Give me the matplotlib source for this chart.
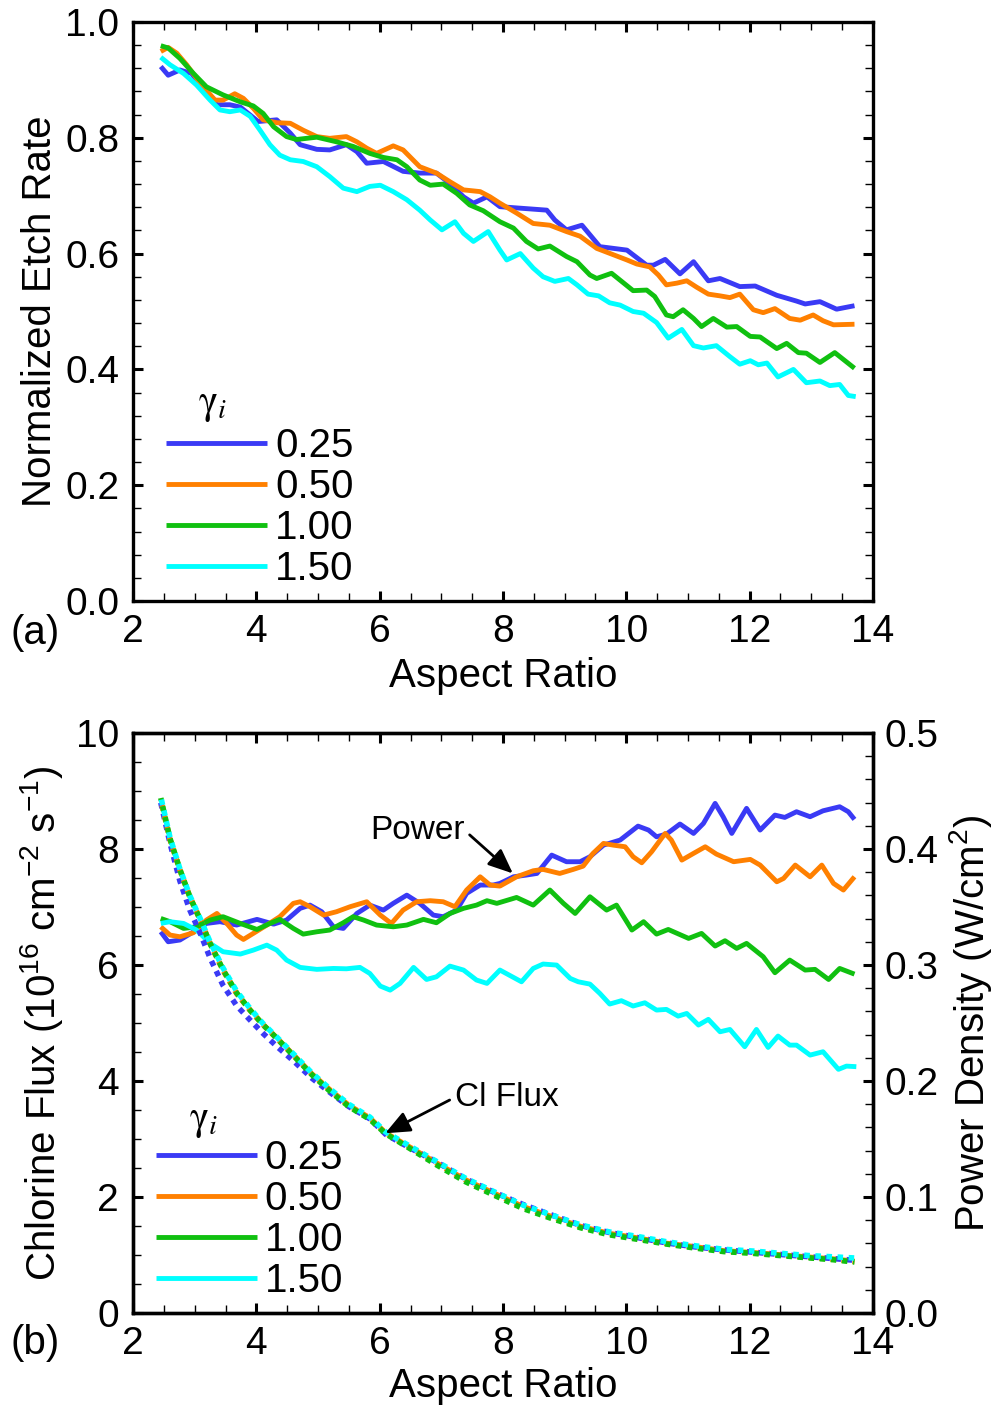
import matplotlib
matplotlib.use("Agg")
import matplotlib.pyplot as plt
from matplotlib.ticker import MultipleLocator, FormatStrFormatter

plt.rcParams['font.family'] = ['Liberation Sans', 'DejaVu Sans']
plt.rcParams['mathtext.fontset'] = 'custom'
plt.rcParams['mathtext.rm'] = 'Liberation Sans'
plt.rcParams['mathtext.it'] = 'Liberation Sans:italic'
plt.rcParams['mathtext.bf'] = 'Liberation Sans:bold'

# ---------------- data ----------------
gamma_labels = ['0.25', '0.50', '1.00', '1.50']
colors = ['#3a3af5', '#ff8000', '#10c010', '#00ffff']

# (a) normalized etch rate vs aspect ratio
ar_etch_025 = [2.45, 2.57, 2.76, 2.95, 3.11, 3.36, 3.57, 3.74, 4.03, 4.33, 4.55, 4.71, 4.98, 5.19, 5.46, 5.63,
               5.79, 6.06, 6.38, 6.65, 6.92, 7.14, 7.36, 7.52, 7.74, 7.95, 8.33, 8.71, 8.84, 9.03, 9.28, 9.57,
               9.79, 10.01, 10.33, 10.44, 10.63, 10.87, 11.09, 11.33, 11.52, 11.84, 12.09, 12.44, 12.76, 12.90,
               13.14, 13.41, 13.70]
etch_025 = [0.923, 0.908, 0.917, 0.911, 0.888, 0.857, 0.857, 0.853, 0.828, 0.831, 0.808, 0.788, 0.780, 0.779,
            0.788, 0.776, 0.756, 0.759, 0.742, 0.739, 0.739, 0.721, 0.698, 0.687, 0.698, 0.681, 0.678, 0.675,
            0.658, 0.641, 0.649, 0.612, 0.609, 0.606, 0.580, 0.580, 0.590, 0.565, 0.586, 0.553, 0.557, 0.543,
            0.544, 0.528, 0.518, 0.513, 0.517, 0.504, 0.510]

ar_etch_050 = [2.45, 2.57, 2.71, 2.87, 3.09, 3.33, 3.46, 3.65, 3.79, 3.95, 4.11, 4.33, 4.55, 4.76, 4.98, 5.19,
               5.46, 5.63, 5.79, 5.95, 6.22, 6.38, 6.65, 6.92, 7.14, 7.36, 7.63, 7.79, 7.95, 8.22, 8.49, 8.76,
               9.03, 9.25, 9.52, 9.79, 10.01, 10.17, 10.38, 10.52, 10.65, 10.82, 10.98, 11.14, 11.33, 11.52,
               11.68, 11.84, 12.06, 12.22, 12.41, 12.65, 12.82, 13.03, 13.19, 13.36, 13.70]
etch_050 = [0.949, 0.956, 0.946, 0.926, 0.894, 0.865, 0.865, 0.876, 0.868, 0.851, 0.831, 0.826, 0.825, 0.813,
            0.802, 0.799, 0.802, 0.793, 0.782, 0.773, 0.786, 0.779, 0.750, 0.739, 0.724, 0.710, 0.707, 0.698,
            0.687, 0.670, 0.652, 0.649, 0.638, 0.630, 0.609, 0.598, 0.589, 0.582, 0.577, 0.563, 0.546, 0.549,
            0.553, 0.542, 0.530, 0.527, 0.524, 0.530, 0.503, 0.498, 0.505, 0.488, 0.485, 0.494, 0.484, 0.477,
            0.478]

ar_etch_100 = [2.45, 2.57, 2.76, 2.98, 3.19, 3.46, 3.74, 3.95, 4.11, 4.28, 4.49, 4.65, 4.98, 5.30, 5.57, 5.84,
               6.06, 6.28, 6.44, 6.65, 6.82, 7.03, 7.25, 7.46, 7.68, 7.95, 8.17, 8.38, 8.57, 8.76, 9.03, 9.20,
               9.41, 9.52, 9.76, 9.90, 10.11, 10.33, 10.46, 10.65, 10.76, 10.92, 11.09, 11.22, 11.41, 11.63,
               11.79, 12.01, 12.17, 12.44, 12.60, 12.79, 12.92, 13.14, 13.38, 13.70]
etch_100 = [0.959, 0.955, 0.937, 0.911, 0.888, 0.874, 0.862, 0.855, 0.842, 0.819, 0.802, 0.797, 0.801, 0.793,
            0.785, 0.773, 0.766, 0.762, 0.750, 0.727, 0.718, 0.720, 0.704, 0.684, 0.674, 0.655, 0.644, 0.621,
            0.608, 0.613, 0.595, 0.586, 0.563, 0.557, 0.566, 0.554, 0.536, 0.537, 0.526, 0.494, 0.491, 0.503,
            0.488, 0.474, 0.488, 0.473, 0.474, 0.457, 0.456, 0.436, 0.445, 0.429, 0.428, 0.412, 0.429, 0.402]

ar_etch_150 = [2.45, 2.60, 2.82, 3.03, 3.25, 3.41, 3.57, 3.74, 3.90, 4.06, 4.22, 4.38, 4.55, 4.76, 4.98, 5.19,
               5.41, 5.63, 5.84, 6.01, 6.22, 6.44, 6.65, 6.82, 7.01, 7.22, 7.36, 7.52, 7.76, 7.95, 8.06, 8.28,
               8.49, 8.65, 8.84, 9.06, 9.20, 9.38, 9.55, 9.73, 9.90, 10.11, 10.28, 10.49, 10.68, 10.90, 11.09,
               11.25, 11.46, 11.68, 11.84, 12.01, 12.14, 12.28, 12.46, 12.71, 12.92, 13.14, 13.30, 13.46, 13.60,
               13.72]
etch_150 = [0.939, 0.926, 0.911, 0.891, 0.865, 0.848, 0.845, 0.848, 0.837, 0.813, 0.788, 0.770, 0.762, 0.759,
            0.750, 0.733, 0.713, 0.707, 0.716, 0.718, 0.707, 0.693, 0.675, 0.658, 0.641, 0.655, 0.635, 0.621,
            0.638, 0.606, 0.589, 0.600, 0.575, 0.560, 0.552, 0.557, 0.546, 0.530, 0.527, 0.515, 0.511, 0.500,
            0.497, 0.481, 0.454, 0.469, 0.441, 0.437, 0.441, 0.422, 0.409, 0.415, 0.408, 0.411, 0.387, 0.400,
            0.377, 0.380, 0.372, 0.374, 0.355, 0.353]

# (b) power density (W/cm^2) vs aspect ratio
ar_power_025 = [2.45, 2.57, 2.76, 2.98, 3.19, 3.41, 3.68, 4.01, 4.28, 4.49, 4.71, 4.87, 5.06, 5.25, 5.41, 5.63,
                5.84, 6.06, 6.22, 6.44, 6.65, 6.87, 7.03, 7.25, 7.41, 7.63, 7.84, 7.95, 8.17, 8.38, 8.55, 8.79,
                9.03, 9.25, 9.41, 9.63, 9.90, 10.19, 10.36, 10.49, 10.65, 10.87, 11.09, 11.25, 11.44, 11.57,
                11.71, 11.95, 12.17, 12.41, 12.57, 12.76, 12.98, 13.19, 13.46, 13.60, 13.70]
power_025 = [0.3287, 0.3201, 0.3216, 0.3287, 0.3359, 0.3374, 0.3345, 0.3394, 0.3353, 0.3388, 0.3489, 0.3517,
             0.3460, 0.3330, 0.3316, 0.3445, 0.3517, 0.3474, 0.3532, 0.3603, 0.3532, 0.3431, 0.3417, 0.3474,
             0.3618, 0.3690, 0.3690, 0.3704, 0.3761, 0.3776, 0.3790, 0.3948, 0.3891, 0.3891, 0.3934, 0.4034,
             0.4078, 0.4198, 0.4164, 0.4106, 0.4129, 0.4216, 0.4135, 0.4221, 0.4394, 0.4279, 0.4135, 0.4351,
             0.4164, 0.4293, 0.4273, 0.4322, 0.4279, 0.4330, 0.4365, 0.4322, 0.4256]

ar_power_050 = [2.45, 2.60, 2.76, 2.98, 3.19, 3.36, 3.52, 3.68, 3.79, 3.95, 4.17, 4.38, 4.60, 4.71, 4.87, 5.09,
                5.30, 5.52, 5.79, 6.01, 6.19, 6.38, 6.60, 6.82, 7.03, 7.22, 7.41, 7.63, 7.79, 7.95, 8.22, 8.49,
                8.65, 8.92, 9.14, 9.30, 9.46, 9.63, 9.79, 9.98, 10.11, 10.25, 10.41, 10.63, 10.73, 10.90, 11.09,
                11.28, 11.46, 11.74, 12.01, 12.17, 12.44, 12.55, 12.74, 12.98, 13.17, 13.36, 13.52, 13.70]
power_050 = [0.3330, 0.3259, 0.3244, 0.3279, 0.3388, 0.3445, 0.3359, 0.3259, 0.3221, 0.3273, 0.3345, 0.3417,
             0.3532, 0.3546, 0.3503, 0.3431, 0.3460, 0.3503, 0.3546, 0.3431, 0.3359, 0.3474, 0.3546, 0.3555,
             0.3546, 0.3503, 0.3647, 0.3761, 0.3690, 0.3681, 0.3761, 0.3813, 0.3825, 0.3790, 0.3825, 0.3853,
             0.3963, 0.4049, 0.4034, 0.4020, 0.3934, 0.3882, 0.3977, 0.4135, 0.4078, 0.3905, 0.3963, 0.4020,
             0.3957, 0.3891, 0.3911, 0.3862, 0.3718, 0.3747, 0.3862, 0.3761, 0.3862, 0.3704, 0.3647, 0.3761]

ar_power_100 = [2.45, 2.60, 2.82, 3.03, 3.25, 3.46, 3.74, 4.01, 4.22, 4.38, 4.60, 4.76, 4.98, 5.19, 5.41, 5.57,
                5.74, 5.95, 6.22, 6.44, 6.71, 6.92, 7.14, 7.36, 7.57, 7.74, 7.90, 8.22, 8.49, 8.76, 8.98, 9.17,
                9.41, 9.68, 9.84, 10.09, 10.28, 10.49, 10.68, 11.01, 11.22, 11.44, 11.60, 11.79, 11.95, 12.22,
                12.41, 12.65, 12.90, 13.06, 13.28, 13.46, 13.70]
power_100 = [0.3402, 0.3374, 0.3316, 0.3330, 0.3388, 0.3417, 0.3359, 0.3307, 0.3359, 0.3394, 0.3316, 0.3267,
             0.3287, 0.3302, 0.3365, 0.3417, 0.3388, 0.3345, 0.3330, 0.3345, 0.3394, 0.3365, 0.3445, 0.3489,
             0.3517, 0.3555, 0.3532, 0.3583, 0.3517, 0.3647, 0.3532, 0.3445, 0.3589, 0.3474, 0.3517, 0.3302,
             0.3374, 0.3267, 0.3307, 0.3230, 0.3273, 0.3164, 0.3210, 0.3144, 0.3187, 0.3072, 0.2934, 0.3043,
             0.2957, 0.2963, 0.2876, 0.2971, 0.2922]

ar_power_150 = [2.45, 2.60, 2.82, 3.03, 3.25, 3.46, 3.74, 3.95, 4.17, 4.33, 4.49, 4.71, 4.98, 5.25, 5.46, 5.68,
                5.84, 6.01, 6.17, 6.33, 6.55, 6.76, 6.92, 7.14, 7.36, 7.57, 7.74, 7.95, 8.30, 8.49, 8.65, 8.87,
                9.09, 9.22, 9.41, 9.57, 9.73, 9.92, 10.11, 10.30, 10.49, 10.65, 10.84, 10.98, 11.17, 11.33,
                11.52, 11.68, 11.92, 12.11, 12.30, 12.46, 12.65, 12.76, 12.98, 13.19, 13.44, 13.57, 13.73]
power_150 = [0.3359, 0.3374, 0.3359, 0.3302, 0.3187, 0.3115, 0.3095, 0.3129, 0.3172, 0.3129, 0.3043, 0.2980,
             0.2963, 0.2971, 0.2968, 0.2980, 0.2928, 0.2819, 0.2784, 0.2842, 0.2980, 0.2876, 0.2899, 0.2991,
             0.2957, 0.2871, 0.2842, 0.2957, 0.2856, 0.2971, 0.3009, 0.3000, 0.2885, 0.2856, 0.2836, 0.2756,
             0.2664, 0.2693, 0.2647, 0.2675, 0.2612, 0.2618, 0.2560, 0.2583, 0.2483, 0.2532, 0.2425, 0.2445,
             0.2296, 0.2445, 0.2290, 0.2388, 0.2310, 0.2310, 0.2224, 0.2253, 0.2101, 0.2129, 0.2124]

# (b) chlorine flux (1e16 cm^-2 s^-1) vs aspect ratio
ar_flux = [2.45, 2.60, 2.76, 2.92, 3.09, 3.25, 3.46, 3.68, 3.90, 4.11, 4.33, 4.60, 4.90, 5.20, 5.50, 5.84,
           6.10, 6.47, 6.93, 7.40, 7.86, 8.33, 8.79, 9.26, 9.72, 10.19, 10.65, 11.12, 11.58, 12.05, 12.51,
           12.98, 13.35, 13.70]
flux_025 = [8.80, 8.10, 7.45, 6.95, 6.55, 6.12, 5.65, 5.30, 5.05, 4.82, 4.60, 4.35, 4.05, 3.80, 3.56, 3.35,
            3.08, 2.86, 2.60, 2.31, 2.08, 1.87, 1.69, 1.51, 1.39, 1.30, 1.21, 1.14, 1.09, 1.05, 1.01, 0.97,
            0.94, 0.91]
flux_050 = [8.85, 8.16, 7.64, 7.18, 6.78, 6.37, 5.91, 5.51, 5.22, 4.97, 4.74, 4.45, 4.12, 3.84, 3.58, 3.36,
            3.10, 2.87, 2.58, 2.29, 2.06, 1.83, 1.66, 1.49, 1.37, 1.29, 1.20, 1.14, 1.07, 1.04, 1.00, 0.96,
            0.93, 0.89]
flux_100 = [8.88, 8.18, 7.65, 7.18, 6.78, 6.37, 5.92, 5.52, 5.22, 4.97, 4.74, 4.44, 4.11, 3.82, 3.56, 3.34,
            3.09, 2.85, 2.55, 2.26, 2.03, 1.80, 1.63, 1.47, 1.35, 1.27, 1.19, 1.12, 1.06, 1.03, 0.99, 0.95,
            0.92, 0.88]
flux_150 = [8.90, 8.20, 7.66, 7.20, 6.80, 6.40, 5.95, 5.55, 5.25, 4.99, 4.76, 4.47, 4.14, 3.86, 3.60, 3.38,
            3.12, 2.89, 2.61, 2.32, 2.09, 1.86, 1.69, 1.52, 1.40, 1.32, 1.23, 1.16, 1.10, 1.07, 1.03, 0.99,
            0.97, 0.95]

etch_series = [(ar_etch_025, etch_025), (ar_etch_050, etch_050), (ar_etch_100, etch_100), (ar_etch_150, etch_150)]
power_series = [(ar_power_025, power_025), (ar_power_050, power_050), (ar_power_100, power_100),
                (ar_power_150, power_150)]
flux_series = [flux_025, flux_050, flux_100, flux_150]
dot_offsets = [0.0, 1.0, 0.5, 1.5]

# ---------------- styling helpers ----------------
FS_TICK = 28
FS_LABEL = 29
LW = 3.5


def style_ticks(ax, which_sides):
    ax.tick_params(which='both', direction='in', labelsize=FS_TICK, **which_sides)
    ax.tick_params(which='major', length=7, width=2.2)
    ax.tick_params(which='minor', length=6, width=1.0)
    for sp in ax.spines.values():
        sp.set_linewidth(2.4)


fig = plt.figure(figsize=(10.04, 14.06), dpi=100)

# ---------------- panel (a) ----------------
ax1 = fig.add_axes([0.1325, 0.5725, 0.737, 0.4119])
lines_a = []
for (xs, ys), c, lab in zip(etch_series, colors, gamma_labels):
    ln, = ax1.plot(xs, ys, color=c, lw=LW, solid_capstyle='butt', solid_joinstyle='round', label=lab)
    lines_a.append(ln)
ax1.set_xlim(2, 14)
ax1.set_ylim(0, 1.0)
ax1.xaxis.set_major_locator(MultipleLocator(2))
ax1.xaxis.set_minor_locator(MultipleLocator(0.5))
ax1.yaxis.set_major_locator(MultipleLocator(0.2))
ax1.yaxis.set_minor_locator(MultipleLocator(0.04))
ax1.yaxis.set_major_formatter(FormatStrFormatter('%.1f'))
style_ticks(ax1, dict(top=True, right=True, bottom=True, left=True))
ax1.tick_params(axis='x', which='major', pad=9)
ax1.tick_params(axis='y', which='major', pad=10)
ax1.set_xlabel('Aspect Ratio', fontsize=FS_LABEL, labelpad=5)
ax1.set_ylabel('Normalized Etch Rate', fontsize=FS_LABEL, labelpad=4)

leg1 = ax1.legend(handles=lines_a, loc='lower left', bbox_to_anchor=(0.045, 0.022), frameon=False,
                  fontsize=FS_LABEL, handlelength=2.5, handletextpad=0.2, labelspacing=0.08,
                  borderpad=0, borderaxespad=0)
ax1.text(0.088, 0.338, r'$\mathrm{\gamma}_{i}$', transform=ax1.transAxes, fontsize=FS_LABEL,
         math_fontfamily='stix', ha='left', va='center')
fig.text(0.010, 1 - 633 / 1406, '(a)', fontsize=FS_LABEL, ha='left', va='center')

# ---------------- panel (b) ----------------
ax2 = fig.add_axes([0.1325, 0.0661, 0.737, 0.4125])
ax2r = ax2.twinx()
ax2.set_zorder(ax2r.get_zorder() + 1)
ax2.patch.set_visible(False)

lines_b = []
for (xs, ys), c, lab in zip(power_series, colors, gamma_labels):
    ln, = ax2r.plot(xs, ys, color=c, lw=LW, solid_capstyle='butt', solid_joinstyle='round', label=lab)
    lines_b.append(ln)
for ys, c, off in zip(flux_series, colors, dot_offsets):
    ax2.plot(ar_flux, ys, color=c, lw=4.0, linestyle=(off, (1, 1)), dash_capstyle='butt')

ax2.set_xlim(2, 14)
ax2.set_ylim(0, 10)
ax2r.set_ylim(0, 0.5)
ax2.xaxis.set_major_locator(MultipleLocator(2))
ax2.xaxis.set_minor_locator(MultipleLocator(0.5))
ax2.yaxis.set_major_locator(MultipleLocator(2))
ax2.yaxis.set_minor_locator(MultipleLocator(0.5))
ax2r.yaxis.set_major_locator(MultipleLocator(0.1))
ax2r.yaxis.set_minor_locator(MultipleLocator(0.02))
ax2r.yaxis.set_major_formatter(FormatStrFormatter('%.1f'))
style_ticks(ax2, dict(top=True, bottom=True, left=True, right=False))
style_ticks(ax2r, dict(right=True, left=False))
ax2.tick_params(axis='x', which='major', pad=9)
ax2.tick_params(axis='y', which='major', pad=10)
ax2r.tick_params(axis='y', which='major', pad=8)
ax2.set_xlabel('Aspect Ratio', fontsize=FS_LABEL, labelpad=4)
ax2.set_ylabel(r'Chlorine Flux (10$^{16}$ cm$^{-2}$ s$^{-1}$)', fontsize=FS_LABEL, labelpad=8)
ax2r.set_ylabel(r'Power Density (W/cm$^{2}$)', fontsize=FS_LABEL, labelpad=6)

leg2 = ax2.legend(handles=lines_b, loc='lower left', bbox_to_anchor=(0.031, 0.022), frameon=False,
                  fontsize=FS_LABEL, handlelength=2.5, handletextpad=0.2, labelspacing=0.08,
                  borderpad=0, borderaxespad=0)
ax2.text(0.075, 0.331, r'$\mathrm{\gamma}_{i}$', transform=ax2.transAxes, fontsize=FS_LABEL,
         math_fontfamily='stix', ha='left', va='center')

arrow_kw = dict(arrowstyle='-|>,head_length=0.75,head_width=0.32', color='black', lw=2,
                mutation_scale=20, shrinkA=2, shrinkB=0)
ax2.annotate('Power', xy=(8.16, 0.379), xycoords=ax2r.transData,
             xytext=(7.38, 0.416), textcoords=ax2r.transData, fontsize=24, ha='right', va='center',
             arrowprops=dict(relpos=(1.0, 0.5), **arrow_kw))
ax2.annotate('Cl Flux', xy=(6.09, 3.10), xytext=(7.22, 3.72), fontsize=24, ha='left', va='center',
             arrowprops=dict(relpos=(0.0, 0.5), **arrow_kw))
fig.text(0.010, 1 - 1343 / 1406, '(b)', fontsize=FS_LABEL, ha='left', va='center')

fig.savefig('out.png', dpi=100)
